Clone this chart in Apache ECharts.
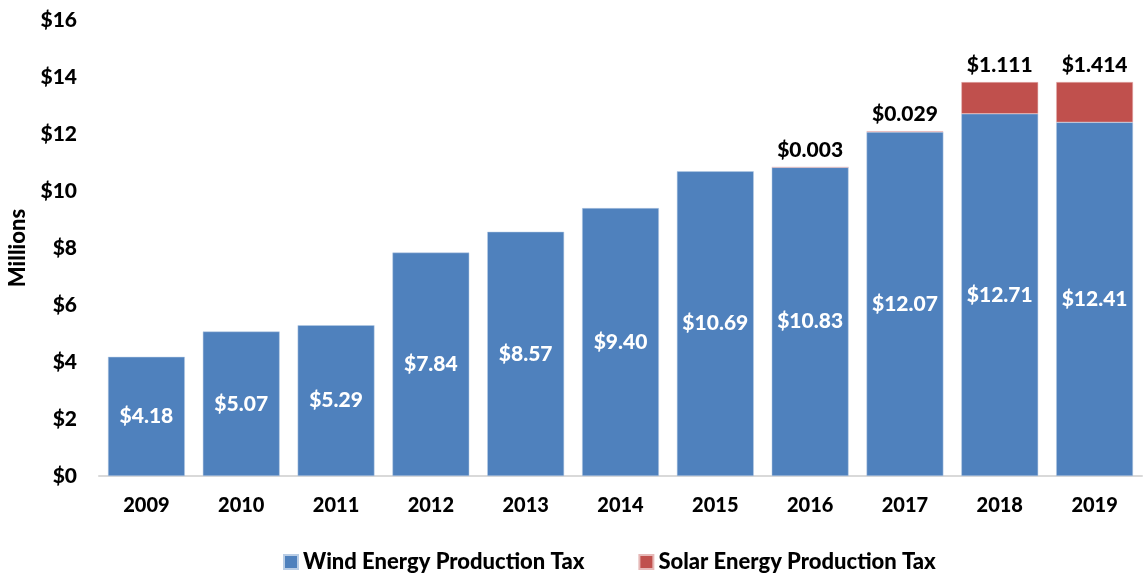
<!DOCTYPE html>
<html>
<head>
<meta charset="utf-8">
<script src="https://cdn.jsdelivr.net/npm/echarts@6/dist/echarts.min.js"></script>
<style>
  html, body { margin: 0; padding: 0; background: #fff; }
  #chart { width: 1145px; height: 581px; }
</style>
</head>
<body>
<div id="chart"></div>
<script>
const years = ['2009', '2010', '2011', '2012', '2013', '2014', '2015', '2016', '2017', '2018', '2019'];
const wind = [4.18, 5.07, 5.29, 7.84, 8.57, 9.40, 10.69, 10.83, 12.07, 12.71, 12.41];
const solar = [null, null, null, null, null, null, null, 0.003, 0.029, 1.111, 1.414];

const font = 'Lato, "Open Sans", sans-serif';
const chart = echarts.init(document.getElementById('chart'));

chart.setOption({
  animation: false,
  textStyle: { fontFamily: font },
  grid: { left: 99, right: 3, top: 20, bottom: 105, containLabel: false, outerBoundsMode: 'none' },
  legend: {
    bottom: 3,
    left: 278,
    itemWidth: 14,
    itemHeight: 14,
    itemGap: 54,
    icon: 'rect',
    textStyle: { fontSize: 22, fontWeight: 900, color: '#000', fontFamily: font },
    data: ['Wind Energy Production Tax', 'Solar Energy Production Tax']
  },
  xAxis: {
    type: 'category',
    data: years,
    axisLine: { lineStyle: { color: '#D9D9D9', width: 2 } },
    axisTick: { show: false },
    axisLabel: { color: '#000', fontSize: 20, fontWeight: 900, margin: 20, fontFamily: font }
  },
  yAxis: {
    type: 'value',
    min: 0,
    max: 16,
    interval: 2,
    name: 'Millions',
    nameLocation: 'middle',
    nameGap: 70,
    nameTextStyle: { color: '#000', fontSize: 22, fontWeight: 900, fontFamily: font },
    splitLine: { show: false },
    axisLine: { show: false },
    axisTick: { show: false },
    axisLabel: {
      color: '#000', fontSize: 21, fontWeight: 900, margin: 22, fontFamily: font,
      formatter: v => '$' + v
    }
  },
  series: [
    {
      name: 'Wind Energy Production Tax',
      type: 'bar',
      stack: 'tax',
      data: wind,
      barCategoryGap: '19%',
      itemStyle: { color: '#4F81BD', borderColor: '#B9CDE5', borderWidth: 0.5 },
      label: {
        show: true,
        position: 'inside',
        color: '#fff',
        fontSize: 21,
        fontWeight: 900,
        fontFamily: font,
        formatter: p => '$' + p.value.toFixed(2)
      }
    },
    {
      name: 'Solar Energy Production Tax',
      type: 'bar',
      stack: 'tax',
      data: solar,
      itemStyle: { color: '#C0504D', borderColor: '#E6B9B8', borderWidth: 0.5 },
      label: {
        show: true,
        position: 'top',
        distance: 6,
        color: '#000',
        fontSize: 21,
        fontWeight: 900,
        fontFamily: font,
        formatter: p => p.value == null ? '' : '$' + p.value.toFixed(3)
      }
    }
  ]
});
</script>
</body>
</html>
